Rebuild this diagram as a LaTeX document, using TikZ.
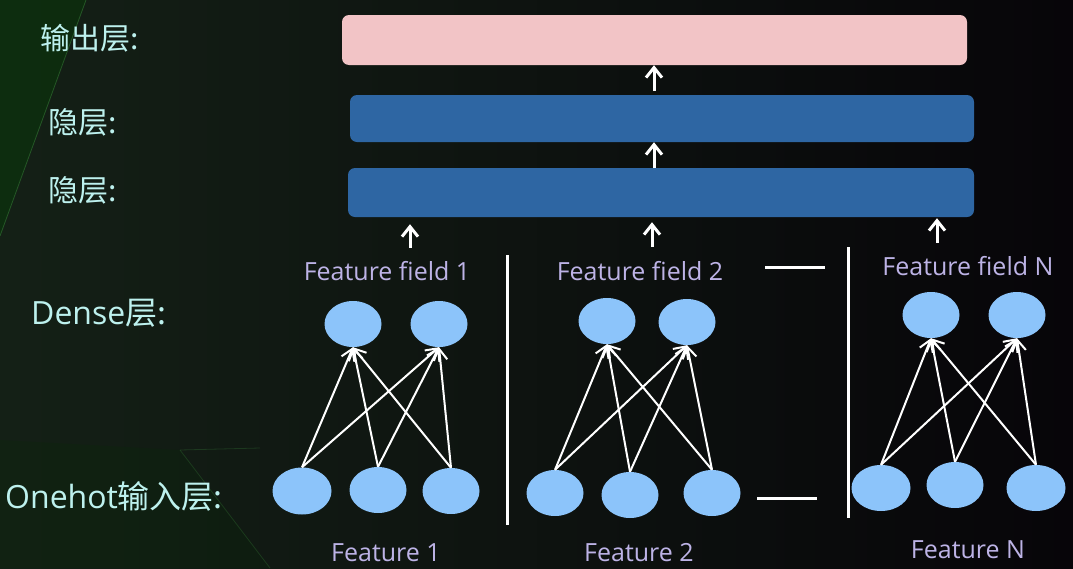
\documentclass[tikz,border=0pt]{standalone}
\usepackage{fontspec}
\setmainfont{Open Sans}
\newfontfamily\cjk{Noto Sans CJK SC}
\usetikzlibrary{arrows.meta,shapes.geometric}
\definecolor{bgL}{HTML}{142016}
\definecolor{bgM}{HTML}{050705}
\definecolor{bgR}{HTML}{070509}
\definecolor{pinkbox}{HTML}{F2C4C6}
\definecolor{bluebox}{HTML}{2E66A3}
\definecolor{nodeblue}{HTML}{8CC4FA}
\definecolor{lbl}{HTML}{BDF1EE}
\definecolor{feat}{HTML}{BDB3E6}
\newcommand{\zh}[1]{{\cjk #1}}
\tikzset{
  layerbox/.style={rectangle, rounded corners=7pt, inner sep=0pt},
  unit/.style={ellipse, fill=nodeblue, inner sep=0pt, minimum width=57pt, minimum height=46pt},
  link/.style={draw=white, line width=2pt, -{Straight Barb[length=11pt,width=14pt,line width=2pt]}},
  bigarrow/.style={draw=white, line width=3pt, -{Straight Barb[length=10pt,width=16pt,line width=3pt]}},
  sideLabel/.style={anchor=west, text=lbl, inner sep=0pt},
  topLabel/.style={sideLabel, font=\fontsize{30}{32}\selectfont},
  lowLabel/.style={sideLabel, font=\fontsize{32}{34}\selectfont},
  featLabel/.style={text=feat, font=\fontsize{25}{28}\selectfont, inner sep=0pt},
  sep/.style={draw=white, line width=3pt}
}
\begin{document}
\begin{tikzpicture}[x=1pt,y=-1pt]
\useasboundingbox (0,0) rectangle (1073,568);
% background
\shade[left color=bgL, middle color=bgM, right color=bgR] (0,0) rectangle (1073,568);
\fill[green!30!black, opacity=0.3] (0,0) -- (86,0) -- (0,236) -- cycle;
\fill[green!20!black, opacity=0.15] (0,440) -- (180,450) -- (270,568) -- (0,568) -- cycle;
\draw[green!40!gray, opacity=0.35, line width=0.8pt] (86,0) -- (0,236);
\draw[green!40!gray, opacity=0.2, line width=0.8pt] (180,450) -- (270,568);
\draw[green!40!gray, opacity=0.2, line width=0.8pt] (180,450) -- (260,448);

% layer boxes
\node[layerbox, fill=pinkbox, minimum width=625pt, minimum height=50pt] (out) at (654.5,40) {};
\node[layerbox, fill=bluebox, minimum width=624pt, minimum height=47pt] (h1) at (662,118.5) {};
\node[layerbox, fill=bluebox, minimum width=626pt, minimum height=49pt] (h2) at (661,192.5) {};

% side labels
\node[topLabel] (lout) at (40,38) {\zh{输出层:}};
\node[topLabel] (lh1) at (48,122) {\zh{隐层:}};
\node[topLabel] (lh2) at (48,190) {\zh{隐层:}};
\node[lowLabel] (ldense) at (31,313) {Dense\zh{层:}};
\node[lowLabel] (lone) at (5,496) {Onehot\zh{输入层:}};

% feature field labels
\node[featLabel] (ff1) at (387,271) {Feature field 1};
\node[featLabel] (ff2) at (640,271) {Feature field 2};
\node[featLabel] (ffn) at (968,266) {Feature field N};
\node[featLabel] (f1) at (386,553) {Feature 1};
\node[featLabel] (f2) at (639,553) {Feature 2};
\node[featLabel] (fn) at (968,550) {Feature N};

% dense units
\node[unit] (d11) at (353,324) {};
\node[unit] (d12) at (439,324) {};
\node[unit] (d21) at (607,321) {};
\node[unit] (d22) at (687,322) {};
\node[unit] (dn1) at (931,315) {};
\node[unit] (dn2) at (1017,315) {};
% onehot units
\node[unit, minimum width=59pt, minimum height=47pt] (b11) at (302,491) {};
\node[unit] (b12) at (378,490) {};
\node[unit] (b13) at (451,491) {};
\node[unit] (b21) at (555,493) {};
\node[unit] (b22) at (630,495) {};
\node[unit] (b23) at (712,493) {};
\node[unit, minimum width=59pt] (bn1) at (881,488) {};
\node[unit] (bn2) at (955,485) {};
\node[unit, minimum width=59pt] (bn3) at (1036,488) {};

% links
\foreach \g in {1,2,n}{
  \foreach \i in {1,2,3}{
    \foreach \j in {1,2}{
      \draw[link] (b\g\i.north) -- (d\g\j.south);
    }
  }
}

% layer arrows
\coordinate (s1) at (654,91);
\draw[bigarrow] (s1) -- (s1 |- out.south);
\coordinate (s2) at (654,168);
\draw[bigarrow] (s2) -- (s2 |- h1.south);
\coordinate (t1) at (410,248);
\coordinate (t2) at (652,247);
\coordinate (t3) at (937,243);
\draw[bigarrow, shorten >=7pt] (t1) -- (t1 |- h2.south);
\draw[bigarrow, shorten >=5pt] (t2) -- (t2 |- h2.south);
\draw[bigarrow, shorten >=1pt] (t3) -- (t3 |- h2.south);

% separators and dashes
\draw[sep] (507,255) -- (507,525);
\draw[sep] (848,247) -- (848,518);
\draw[sep] (765,267) -- (825,267);
\draw[sep] (757,498) -- (817,498);
\end{tikzpicture}
\end{document}
